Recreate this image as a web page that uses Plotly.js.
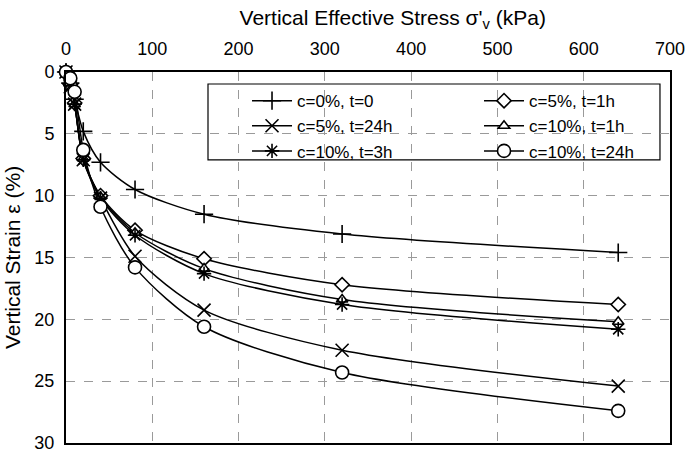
<!DOCTYPE html>
<html>
<head>
<meta charset="utf-8">
<script src="https://cdn.plot.ly/plotly-3.0.1.min.js"></script>
<style>
  html, body { margin: 0; padding: 0; background: #fff; }
  #chart { width: 685px; height: 455px; }
</style>
</head>
<body>
<div id="chart"></div>
<script>
// Applied vertical effective stress (kPa)
const stress = [0, 5, 10, 20, 40, 80, 160, 320, 640];

// Vertical strain (%) for each test
const c0t0    = [0, 0.9, 2.2, 4.8, 7.3, 9.5, 11.5, 13.1, 14.6];
const c5t1    = [0, 1.0, 2.5, 7.0, 10.0, 12.8, 15.1, 17.2, 18.8];
const c5t24   = [0, 1.2, 2.6, 7.1, 10.2, 14.9, 19.25, 22.5, 25.4];
const c10t1   = [0, 1.2, 2.6, 7.0, 10.1, 13.0, 15.9, 18.4, 20.2];
const c10t3   = [0, 1.1, 2.6, 7.1, 10.2, 13.2, 16.3, 18.8, 20.8];
const c10t24  = [0, 0.5, 1.6, 6.3, 10.9, 15.8, 20.6, 24.3, 27.4];

const seriesNames = ["c=0%, t=0", "c=5%, t=1h", "c=5%, t=24h", "c=10%, t=1h", "c=10%, t=3h", "c=10%, t=24h"];

// one trace per test, black smoothed line with its own marker
function makeTrace(name, y, symbol, size, fill) {
  return {
    x: stress,
    y: y,
    name: name,
    mode: "lines+markers",
    cliponaxis: false,
    line: { color: "#000", width: 1.5, shape: "spline", smoothing: 0.8 },
    marker: {
      symbol: symbol,
      size: size,
      color: fill,
      line: { color: "#000", width: 1.6 }
    }
  };
}

const traces = [
  makeTrace(seriesNames[0], c0t0, "cross-thin-open", 13, "#000"),
  makeTrace(seriesNames[1], c5t1, "diamond", 11, "#fff"),
  makeTrace(seriesNames[2], c5t24, "x-thin-open", 13, "#000"),
  makeTrace(seriesNames[3], c10t1, "triangle-up", 10, "#fff"),
  makeTrace(seriesNames[4], c10t3, "asterisk-open", 12, "#000"),
  makeTrace(seriesNames[5], c10t24, "circle", 13, "#fff")
];

const font = "Liberation Sans, Arial, sans-serif";

const layout = {
  width: 685,
  height: 455,
  margin: { l: 66, r: 15, t: 72, b: 12, autoexpand: false },
  paper_bgcolor: "#fff",
  plot_bgcolor: "#fff",
  font: { family: font, size: 18, color: "#000" },
  showlegend: true,
  // stress axis title sits above the top axis, a bit right of centre
  title: {
    text: "Vertical Effective Stress σ'<sub>v</sub> (kPa)",
    font: { size: 21 },
    xref: "paper", x: 0.541, xanchor: "center",
    yref: "container", y: 0.962, yanchor: "middle"
  },
  xaxis: {
    side: "top",
    range: [0, 700],
    dtick: 100,
    showgrid: true,
    gridcolor: "#9a9a9a",
    griddash: "dash",
    gridwidth: 1,
    zeroline: false,
    showline: true,
    linecolor: "#000",
    linewidth: 2,
    mirror: true,
    ticks: "",
    ticklabelstandoff: 8,
    ticklabeloverflow: "allow",
    tickfont: { size: 18 }
  },
  yaxis: {
    range: [30, 0],
    dtick: 5,
    showgrid: true,
    gridcolor: "#9a9a9a",
    griddash: "dash",
    gridwidth: 1,
    zeroline: false,
    showline: true,
    linecolor: "#000",
    linewidth: 2,
    mirror: true,
    ticks: "",
    ticklabelstandoff: 6,
    ticklabeloverflow: "allow",
    tickfont: { size: 18 },
    title: { text: "Vertical Strain ε (%)", font: { size: 21 }, standoff: 8 }
  },
  // legend frame
  shapes: [{
    type: "rect",
    xref: "paper", yref: "paper",
    x0: 0.2351, x1: 0.9834, y0: 0.7634, y1: 0.9677,
    line: { color: "#000", width: 1.2 },
    fillcolor: "#fff",
    layer: "between"
  }],
  legend: {
    orientation: "h",
    x: 0.2997,
    y: 0.970,
    xanchor: "left",
    yanchor: "top",
    itemwidth: 40,
    entrywidth: 177,
    entrywidthmode: "pixels",
    bgcolor: "rgba(0,0,0,0)",
    borderwidth: 0,
    font: { family: font, size: 17, color: "#000" },
    traceorder: "normal"
  }
};

Plotly.newPlot("chart", traces, layout, { displayModeBar: false, staticPlot: true });
</script>
</body>
</html>
